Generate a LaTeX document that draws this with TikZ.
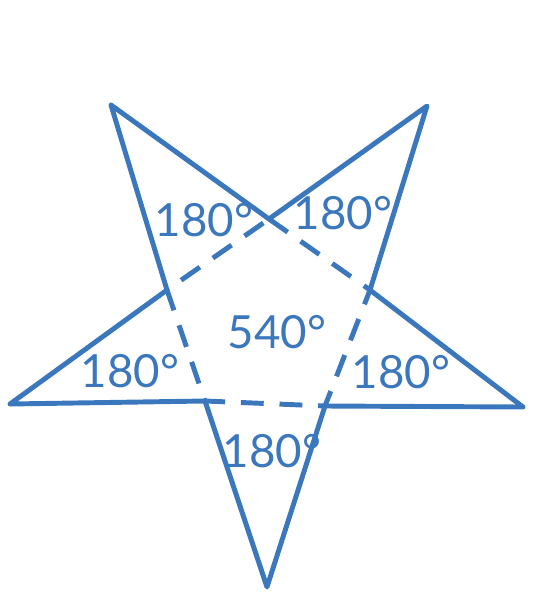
\documentclass[tikz,border=0pt]{standalone}
\usepackage{fontspec}
\setmainfont{Lato}
\usepackage{tikz}

\definecolor{starblue}{RGB}{59,119,189}

\begin{document}
\begin{tikzpicture}[x=0.02cm, y=-0.02cm]
% Define styles
\tikzstyle{edge} = [draw=starblue, line width=2.8pt, line cap=round, line join=round]
\tikzstyle{inner} = [edge, line cap=butt, dash pattern=on 13pt off 9pt]
\tikzstyle{angle} = [text=starblue, font=\fontsize{26}{31}\selectfont, inner sep=0pt]

\useasboundingbox (0,0) rectangle (534,600);

% Outer points of the star
\coordinate (tl) at (111,105);
\coordinate (tr) at (427,106);
\coordinate (rt) at (523,407);
\coordinate (bt) at (267,587);
\coordinate (lt) at (10,404);

% Inner pentagon
\coordinate (ptop) at (269,219);
\coordinate (pright) at (370,290);
\coordinate (plowr) at (325,406);
\coordinate (plowl) at (205,401);
\coordinate (pleft) at (167,290);

% Solid outer edges
\draw[edge] (tl) -- (pleft) (plowl) -- (bt) -- (plowr) (pright) -- (tr) -- (ptop) -- (tl);
\draw[edge] (lt) -- (pleft) (lt) -- (plowl) (rt) -- (pright) (rt) -- (plowr);

% Dashed inner pentagon
\draw[inner] (ptop) -- (pright) -- (plowr) -- (plowl) -- (pleft) -- cycle;

% Angle sums
\node[angle] (sumtl) at (204,220) {180°};
\node[angle] (sumtr) at (343,213) {180°};
\node[angle] (sumc) at (277,332) {540°};
\node[angle] (suml) at (130,371) {180°};
\node[angle] (sumr) at (401,372) {180°};
\node[angle] (sumb) at (272,451) {180°};

\end{tikzpicture}
\end{document}
